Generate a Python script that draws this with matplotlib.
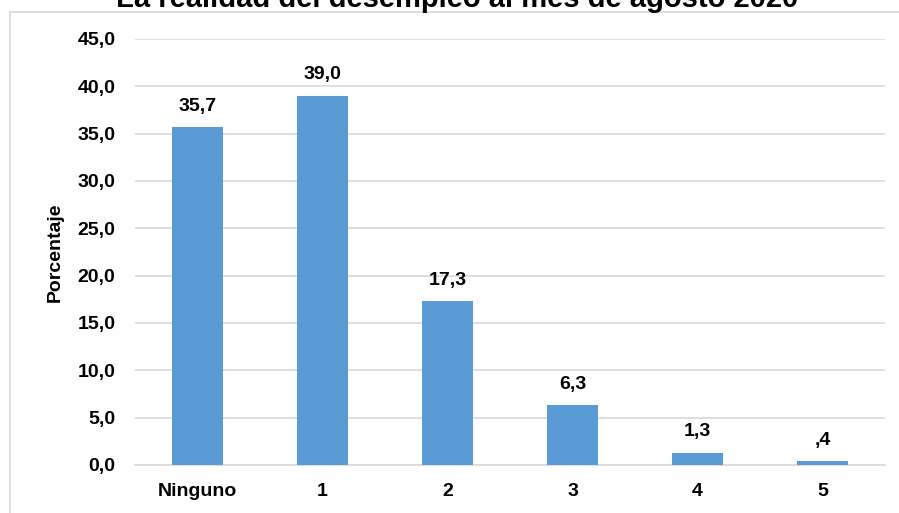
import matplotlib.pyplot as plt
from matplotlib.patches import Rectangle

# datos
categorias = ["Ninguno", "1", "2", "3", "4", "5"]
porcentajes = [35.7, 39.0, 17.3, 6.3, 1.3, 0.4]
etiquetas = ["35,7", "39,0", "17,3", "6,3", "1,3", ",4"]
yticks = [0, 5, 10, 15, 20, 25, 30, 35, 40, 45]
ytick_labels = ["0,0", "5,0", "10,0", "15,0", "20,0", "25,0", "30,0", "35,0", "40,0", "45,0"]

plt.rcParams['font.family'] = ['Liberation Sans', 'DejaVu Sans']
plt.rcParams['font.weight'] = 'bold'

fig = plt.figure(figsize=(8.99, 5.13), dpi=100)
ax = fig.add_axes([135 / 899, 1 - 465 / 513, (885 - 135) / 899, (465 - 39) / 513])

# borde del gráfico
fig.patches.append(Rectangle((10 / 899, -0.1), 1.2, 1 - 12 / 513 + 0.1,
                             transform=fig.transFigure, fill=False,
                             edgecolor='#d9d9d9', linewidth=1.2))

x = range(len(categorias))
ax.bar(x, porcentajes, width=0.405, color='#5b9bd5', zorder=3)
for xi, v, t in zip(x, porcentajes, etiquetas):
    ax.annotate(t, (xi, v), xytext=(0, 9), textcoords='offset points',
                ha='center', va='bottom', fontsize=14, fontweight='bold')

ax.set_xlim(-0.5, len(categorias) - 0.5)
ax.set_ylim(0, 45)
ax.set_yticks(yticks)
ax.set_yticklabels(ytick_labels)
ax.set_xticks(list(x))
ax.set_xticklabels(categorias)
ax.tick_params(axis='y', length=0, pad=14, labelsize=14)
ax.tick_params(axis='x', length=0, pad=13, labelsize=14)
ax.grid(axis='y', color='#d9d9d9', linewidth=1.2, zorder=0)
for s in ['top', 'right', 'left']:
    ax.spines[s].set_visible(False)
ax.spines['bottom'].set_color('#d9d9d9')
ax.spines['bottom'].set_linewidth(1.2)
ax.set_ylabel("Porcentaje", fontsize=14, fontweight='bold', labelpad=10)

fig.text(0.508, 1 - 7 / 513, "La realidad del desempleo al mes de agosto 2020",
         ha='center', va='baseline', fontsize=21, fontweight='bold')

fig.savefig("out.png", dpi=100)
